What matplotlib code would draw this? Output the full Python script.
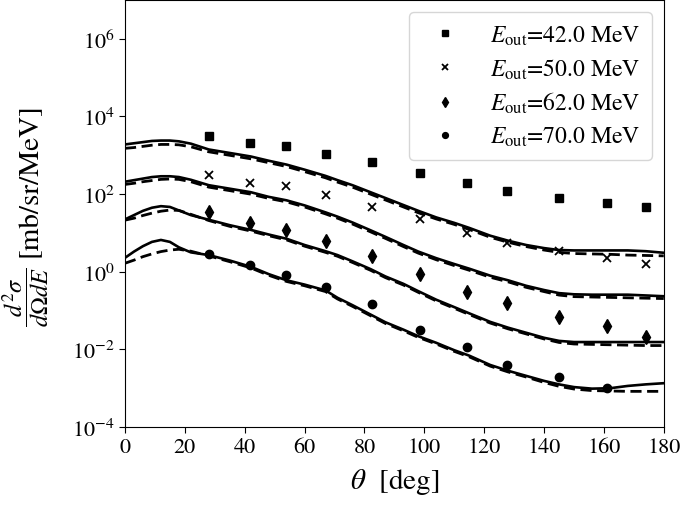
import matplotlib
matplotlib.use("Agg")
import matplotlib.pyplot as plt
import numpy as np

plt.rcParams['font.family'] = ['STIXGeneral', 'DejaVu Serif']
plt.rcParams['mathtext.fontset'] = 'stix'

# ---- data points (angle in deg, cross section in mb/sr/MeV) ----
theta_pts = [28.2, 41.8, 53.8, 67.2, 82.6, 98.5, 114.3, 127.5, 145.0, 161.1, 173.9]
pts_42 = [3100, 2100, 1700, 1100, 660, 360, 190, 120, 80, 58, 46]
pts_50 = [318, 195, 160, 94, 47, 23, 10.2, 5.6, 3.5, 2.2, 1.6]
pts_62 = [34, 18.3, 11.9, 6.2, 2.6, 0.89, 0.30, 0.16, 0.069, 0.040, 0.021]
theta_pts_70 = [28.2, 41.8, 53.8, 67.2, 82.6, 98.5, 114.3, 127.5, 145.0, 161.1]
pts_70 = [2.8, 1.5, 0.84, 0.41, 0.145, 0.032, 0.0117, 0.0040, 0.0020, 0.00104]

labels = [r'$E_{\rm out}$=42.0 MeV', r'$E_{\rm out}$=50.0 MeV',
          r'$E_{\rm out}$=62.0 MeV', r'$E_{\rm out}$=70.0 MeV']

# ---- model curves: log10 of cross section ----
theta_c = [0, 3, 6, 9, 12, 15, 18, 22, 28, 35, 42, 48, 54, 60, 67, 71, 76, 82, 87, 93, 98,
           104, 110, 115, 122, 128, 134, 140, 145, 150, 156, 162, 168, 174, 180]

solid_42 = [3.28, 3.31, 3.34, 3.37, 3.38, 3.38, 3.36, 3.30, 3.15, 3.06, 2.97, 2.86, 2.76, 2.63,
            2.47, 2.36, 2.23, 2.05, 1.90, 1.72, 1.57, 1.40, 1.26, 1.13, 0.93, 0.80, 0.69, 0.61,
            0.56, 0.55, 0.55, 0.55, 0.55, 0.53, 0.49]
dash_42 = [3.18, 3.20, 3.23, 3.26, 3.28, 3.28, 3.27, 3.22, 3.09, 3.00, 2.91, 2.81, 2.71, 2.58,
           2.42, 2.31, 2.18, 2.00, 1.85, 1.67, 1.52, 1.36, 1.22, 1.09, 0.89, 0.76, 0.65, 0.56,
           0.50, 0.47, 0.46, 0.45, 0.43, 0.42, 0.41]
solid_50 = [2.32, 2.36, 2.40, 2.44, 2.46, 2.46, 2.44, 2.37, 2.23, 2.14, 2.05, 1.93, 1.84, 1.71,
            1.53, 1.42, 1.27, 1.07, 0.90, 0.69, 0.52, 0.35, 0.20, 0.08, -0.10, -0.22, -0.36,
            -0.47, -0.55, -0.58, -0.59, -0.59, -0.59, -0.61, -0.63]
dash_50 = [2.25, 2.28, 2.32, 2.35, 2.38, 2.39, 2.38, 2.32, 2.18, 2.09, 2.00, 1.89, 1.80, 1.67,
           1.49, 1.38, 1.23, 1.03, 0.86, 0.65, 0.48, 0.31, 0.16, 0.04, -0.14, -0.26, -0.40,
           -0.51, -0.60, -0.64, -0.65, -0.66, -0.67, -0.68, -0.69]
solid_62 = [1.35, 1.46, 1.57, 1.65, 1.69, 1.67, 1.58, 1.46, 1.34, 1.20, 1.08, 0.96, 0.85, 0.69,
            0.53, 0.43, 0.27, 0.07, -0.12, -0.31, -0.50, -0.72, -0.91, -1.07, -1.29, -1.44,
            -1.57, -1.70, -1.78, -1.81, -1.81, -1.81, -1.81, -1.81, -1.81]
dash_62 = [1.33, 1.38, 1.45, 1.51, 1.56, 1.59, 1.58, 1.48, 1.32, 1.17, 1.05, 0.93, 0.82, 0.66,
           0.50, 0.40, 0.24, 0.04, -0.15, -0.34, -0.53, -0.75, -0.94, -1.10, -1.32, -1.47,
           -1.60, -1.73, -1.82, -1.86, -1.87, -1.88, -1.89, -1.90, -1.90]
solid_70 = [0.36, 0.52, 0.66, 0.77, 0.82, 0.77, 0.63, 0.50, 0.43, 0.29, 0.13, -0.06, -0.22,
            -0.33, -0.48, -0.67, -0.86, -1.10, -1.30, -1.49, -1.66, -1.83, -2.02, -2.16, -2.40,
            -2.55, -2.68, -2.81, -2.90, -2.97, -3.01, -3.00, -2.94, -2.90, -2.87]
dash_70 = [0.22, 0.30, 0.39, 0.46, 0.52, 0.56, 0.58, 0.53, 0.41, 0.26, 0.10, -0.09, -0.25,
           -0.36, -0.51, -0.70, -0.89, -1.13, -1.33, -1.52, -1.69, -1.86, -2.05, -2.19, -2.43,
           -2.58, -2.71, -2.85, -2.95, -3.02, -3.06, -3.07, -3.08, -3.08, -3.08]

fig = plt.figure(figsize=(6.85, 5.06), dpi=100)
ax = fig.add_axes([0.1825, 0.154, 0.7865, 0.844])

for s, d in [(solid_42, dash_42), (solid_50, dash_50), (solid_62, dash_62), (solid_70, dash_70)]:
    ax.plot(theta_c, np.power(10.0, s), color='black', lw=1.9, ls='-')
    ax.plot(theta_c, np.power(10.0, d), color='black', lw=2.0, ls=(0, (4, 2)))

ax.plot(theta_pts, pts_42, ls='none', marker='s', ms=6, color='black', label=labels[0])
ax.plot(theta_pts, pts_50, ls='none', marker='x', ms=6, mew=1.3, color='black', label=labels[1])
ax.plot(theta_pts, pts_62, ls='none', marker='d', ms=7.5, color='black', label=labels[2])
ax.plot(theta_pts_70, pts_70, ls='none', marker='o', ms=6, color='black', label=labels[3])

ax.set_yscale('log')
ax.set_xlim(0, 180)
ax.set_ylim(1e-4, 1e7)
ax.set_yticks([1e-4, 1e-2, 1e0, 1e2, 1e4, 1e6])
ax.yaxis.set_minor_locator(matplotlib.ticker.NullLocator())
ax.set_xticks(np.arange(0, 181, 20))
ax.tick_params(axis='both', which='major', labelsize=16, direction='out', length=4)

ax.set_xlabel(r'$\theta$  [deg]', fontsize=21, labelpad=6)

# y label: fraction slightly smaller than the unit text, as in the reference
fig.text(30 / 685, 1 - 180 / 506, '[mb/sr/MeV]', rotation=90, ha='center', va='center',
         fontsize=21)
fig.text(26 / 685, 1 - 297 / 506, r'$\dfrac{d^2\sigma}{d\Omega dE}$', rotation=90,
         ha='center', va='center', fontsize=17.5)

ax.legend(loc='upper right', fontsize=17, markerscale=0.7, handletextpad=0.92,
          borderpad=0.5, labelspacing=0.4)

fig.savefig('out.png', dpi=100)
